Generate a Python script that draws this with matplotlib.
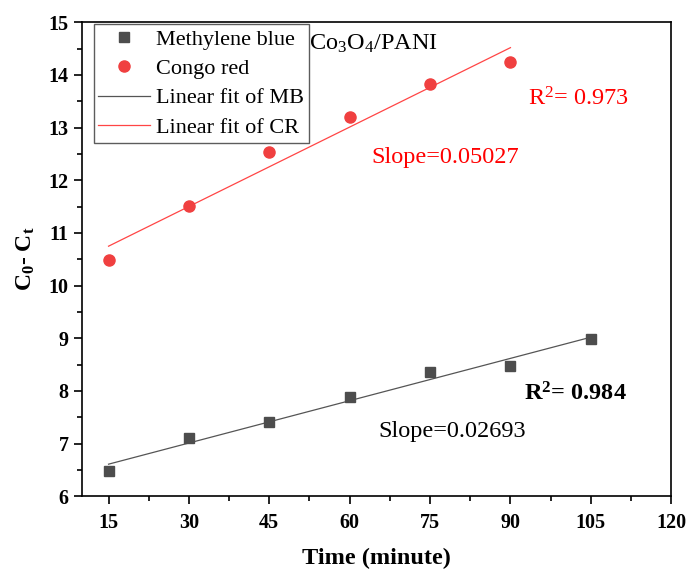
import numpy as np
import matplotlib
matplotlib.use("Agg")
import matplotlib.pyplot as plt

plt.rcParams['font.family'] = ['Liberation Serif', 'DejaVu Serif']
plt.rcParams['mathtext.fontset'] = 'custom'
plt.rcParams['mathtext.rm'] = 'Liberation Serif'
plt.rcParams['mathtext.it'] = 'Liberation Serif:italic'
plt.rcParams['mathtext.bf'] = 'Liberation Serif:bold'

# datos
tiempo_mb = [15, 30, 45, 60, 75, 90, 105]
c_mb = [6.48, 7.10, 7.40, 7.88, 8.36, 8.48, 8.99]
tiempo_cr = [15, 30, 45, 60, 75, 90]
c_cr = [10.48, 11.51, 12.54, 13.20, 13.82, 14.24]

x_ticks = [15, 30, 45, 60, 75, 90, 105, 120]
y_ticks = [6, 7, 8, 9, 10, 11, 12, 13, 14, 15]

# ajuste lineal de cada serie
p_mb = np.polyfit(tiempo_mb, c_mb, 1)
p_cr = np.polyfit(tiempo_cr, c_cr, 1)
xf_mb = np.array([tiempo_mb[0], tiempo_mb[-1]])
xf_cr = np.array([tiempo_cr[0], tiempo_cr[-1]])

fig = plt.figure(figsize=(6.87, 5.69), dpi=100)
ax = fig.add_axes([0.119, 0.128, 0.858, 0.833])

ax.plot(tiempo_mb, c_mb, 's', color='#4d4d4d', ms=7, label='Methylene blue', zorder=3)
ax.plot(tiempo_cr, c_cr, 'o', color='#f04040', ms=8, label='Congo red', zorder=3)
ax.plot(xf_mb, np.polyval(p_mb, xf_mb), '-', color='#555555', lw=0.9, label='Linear fit of MB')
ax.plot(xf_cr, np.polyval(p_cr, xf_cr), '-', color='#ff4545', lw=0.9, label='Linear fit of CR')

ax.set_xlim(10, 120)
ax.set_ylim(6, 15)
ax.set_xticks(x_ticks)
ax.set_yticks(y_ticks)
ax.set_xticks(np.arange(22.5, 120, 15), minor=True)
ax.set_yticks(np.arange(6.5, 15, 1), minor=True)
ax.tick_params(which='major', direction='out', length=6, width=1.2, labelsize=14.5)
ax.tick_params(axis='x', which='major', pad=6)
ax.tick_params(which='minor', direction='out', length=3.5, width=1.2)
for lab in ax.get_xticklabels() + ax.get_yticklabels():
    lab.set_fontweight('bold')
for s in ax.spines.values():
    s.set_linewidth(1.2)

ax.set_xlabel('Time (minute)', fontsize=17.5, fontweight='bold', labelpad=11)
ax.set_ylabel(r'C$_\mathregular{0}$- C$_\mathregular{t}$', fontsize=17, fontweight='bold', labelpad=8)

leg = ax.legend(loc='upper left', bbox_to_anchor=(0.02, 0.996), fontsize=16, frameon=True,
                fancybox=False, borderaxespad=0, handlelength=2.3, handletextpad=0.3,
                labelspacing=0.4, borderpad=0.22)
leg.get_frame().set_edgecolor('#333333')
leg.get_frame().set_linewidth(1.0)

ax.text(52.4, 14.58, r'Co$_\mathregular{3}$O$_\mathregular{4}$/PANI', fontsize=17.5, va='center')
ax.text(93.2, 13.55, r'R$^\mathregular{2}$= 0.973', fontsize=17.5, color='red', va='center')
ax.text(64, 12.43, 'Slope=0.05027', fontsize=17.5, color='red', va='center')
ax.text(92.6, 7.94, r'R$^\mathregular{2}$= 0.984', fontsize=17.5, fontweight='bold', va='center')
ax.text(65.4, 7.23, 'Slope=0.02693', fontsize=17.5, va='center')

fig.savefig('out.png', dpi=100)
